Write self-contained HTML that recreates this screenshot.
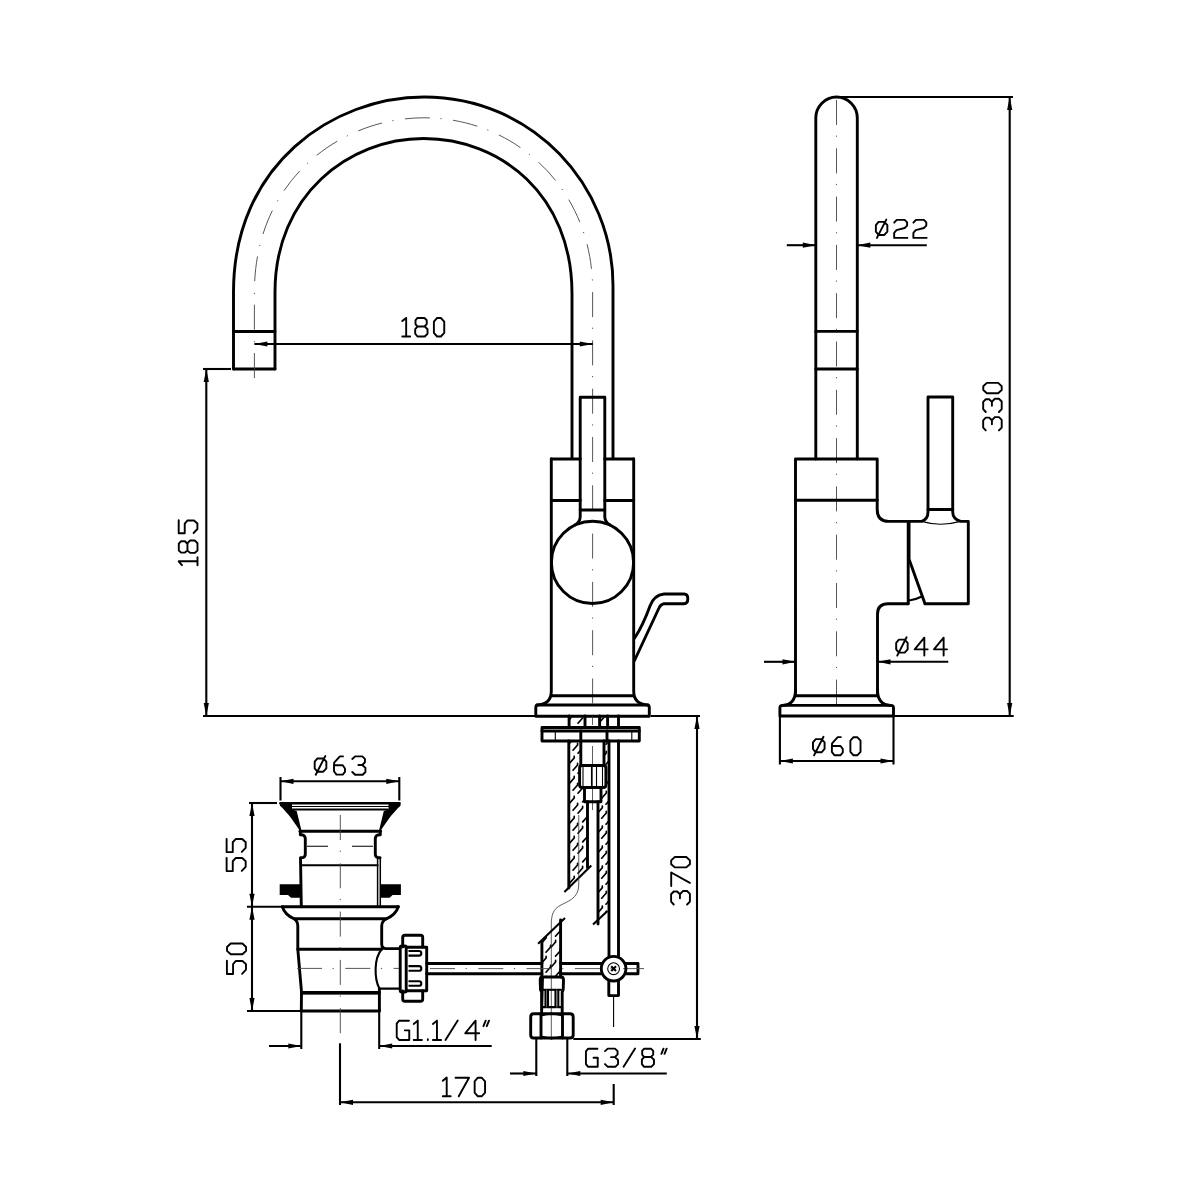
<!DOCTYPE html>
<html><head><meta charset="utf-8">
<style>
html,body{margin:0;padding:0;background:#fff;width:1200px;height:1200px;overflow:hidden}
svg{display:block}
.t{fill:none;stroke:#000;stroke-width:2.9;stroke-linejoin:round;stroke-linecap:round}
.m{fill:none;stroke:#000;stroke-width:2.1}
.k{fill:none;stroke:#000;stroke-width:2.4;stroke-linecap:round}
.n{fill:none;stroke:#000;stroke-width:1.1}
.d{fill:none;stroke:#000;stroke-width:1.5}
.w{fill:none;stroke:#333;stroke-width:0.8}
.h{fill:none;stroke:#000;stroke-width:1.7;stroke-linecap:round}
.c{fill:none;stroke:#444;stroke-width:0.9;stroke-dasharray:25 10.6 1.2 11.5}
.ar{fill:#000;stroke:none}
.g{fill:none;stroke:#000;stroke-width:1.9;stroke-linejoin:round;stroke-linecap:round;vector-effect:non-scaling-stroke}
text{font-family:"Liberation Sans",sans-serif;fill:#000}
</style></head><body>
<svg width="1200" height="1200" viewBox="0 0 1200 1200">
<defs><clipPath id="cL"><path d="M569.5,741 L580.3,741 L580.3,765.5 L579.2,765.5 L579.2,787.5 L584,787.5 L584,801.7 L587,801.7 L587,869.3 L569.5,887.4 Z"/></clipPath><clipPath id="cR"><path d="M604.5,741 L608.5,741 L608.5,909.6 L598.5,919.8 L598.5,801.7 L601.5,801.7 L601.5,787.5 L606.4,787.5 L606.4,765.5 L604.5,765.5 Z"/></clipPath><clipPath id="cB"><path d="M542.4,940.2 L560.1,922.2 L560.1,976 L542.4,976 Z"/></clipPath><clipPath id="cS"><path d="M569.5,717.5 L584.5,717.5 L584.5,726 L569.5,726 Z"/></clipPath><clipPath id="cS2"><path d="M600.5,717.5 L606.5,717.5 L606.5,726 L600.5,726 Z"/></clipPath></defs>
<path class="t" d="M233.5,369 L233.5,292.1 C233.5,164.1 333.4,97 424,97 C533,97 613,185.6 613,285.6 L613,458.5" />
<path class="t" d="M275,369 L275,292.1 C275,195.2 348.6,138.5 423.6,138.5 C500.4,138.5 572,195 572,293.5 L572,458.5" />
<path class="t" d="M233.5,369 L275,369 M233.5,331.5 L275,331.5" />
<path class="c" d="M254.4,378 L254.4,292.1 C254.4,179.6 341,117.8 423.8,117.8 C516.7,117.8 592.6,190.3 592.6,289.5 L592.6,712" />
<path class="m" d="M254.4,344 L592.8,344"/>
<polygon class="ar" points="254.4,344.0 267.4,341.4 267.4,346.6"/>
<polygon class="ar" points="592.8,344.0 579.8,346.6 579.8,341.4"/>
<path class="g" transform="translate(402,317.3) scale(0.9950)" d="M0.3,3.8 L4.2,0.6 L4.2,19.3 M0.3,19.3 L8.2,19.3"/>
<path class="g" transform="translate(414.8,317.3) scale(0.9950)" d="M2.7,0.7 L9.7,0.7 L12,3 L12,6.8 L9.5,9.3 L2.7,9.3 L0.7,6.8 L0.7,3 Z M2.7,9.3 L10,9.3 L12.8,12 L12.8,16.5 L10,19.3 L2.7,19.3 L0.4,16.5 L0.4,12 Z"/>
<path class="g" transform="translate(433.5,317.3) scale(0.9950)" d="M3.6,0.7 L7.4,0.7 L10.8,4.3 L10.8,15.7 L7.4,19.3 L3.6,19.3 L0.4,15.7 L0.4,4.3 Z"/>
<path class="m" d="M206.3,369 L206.3,716"/>
<polygon class="ar" points="206.3,369.0 208.9,382.0 203.7,382.0"/>
<polygon class="ar" points="206.3,716.0 203.7,703.0 208.9,703.0"/>
<path class="m" d="M203,369 L231,369"/>
<path class="m" d="M203,716 L535,716"/>
<path class="m" d="M651,716 L700,716"/>
<path class="g" transform="matrix(0,-1.0050,1.0050,0,178.1,565.5)" d="M0.3,3.8 L4.2,0.6 L4.2,19.3 M0.3,19.3 L8.2,19.3"/>
<path class="g" transform="matrix(0,-1.0050,1.0050,0,178.1,553.3)" d="M2.7,0.7 L9.7,0.7 L12,3 L12,6.8 L9.5,9.3 L2.7,9.3 L0.7,6.8 L0.7,3 Z M2.7,9.3 L10,9.3 L12.8,12 L12.8,16.5 L10,19.3 L2.7,19.3 L0.4,16.5 L0.4,12 Z"/>
<path class="g" transform="matrix(0,-1.0050,1.0050,0,178.1,533.8)" d="M13.5,0.6 L0.6,0.6 L0.6,6.6 L10.2,6.6 L13.3,9.4 L13.3,15.8 L10.2,19.2 L4.8,19.2 L0.8,15.4"/>
<path class="t" d="M551.3,459 L580.3,459 M604.7,459 L633.7,459" />
<path class="t" d="M551.3,459 L551.3,691 Q551.3,704.5 537,705" />
<path class="t" d="M633.7,459 L633.7,691 Q633.7,704.5 648,705" />
<path class="t" d="M551.3,500.5 L580.3,500.5 M604.7,500.5 L633.7,500.5" />
<path class="t" d="M551.3,695.7 L633.7,695.7" />
<path class="t" d="M580.2,510 L580.2,397.3 L604.8,397.3 L604.8,510 Z" />
<path class="t" d="M580.2,510 L580.2,517 Q580,522 575,525 M604.8,510 L604.8,517 Q605,522 610,525" />
<circle class="t" cx="592.5" cy="562.4" r="41.1"/>
<path class="t" d="M634.5,638.3 C640,630 646,617 650,606 Q654,595 664,594 L684,594 Q687.8,594 687.8,598.8 Q687.8,603.7 684,603.7 L664,603.7 Q660.5,604.5 659,608 L634.5,660.5" />
<path class="t" d="M538,705 L647,705 Q649.3,705 649.3,707.5 L649.3,716.3 L535.8,716.3 L535.8,707.5 Q535.8,705 538,705 Z" />
<path class="t" d="M569.1,716 L569.1,727"/>
<path class="t" d="M585,716 L585,727"/>
<path class="t" d="M599.6,716 L599.6,727"/>
<path class="t" d="M607.6,716 L607.6,727"/>
<path class="w" d="M592.5,716 L592.5,725 M592.5,746 L592.5,810" />
<path class="t" d="M542,727.5 L639.3,727.5 L639.3,741 L542,741 Z" />
<path class="t" d="M542,731 L639.3,731" />
<path class="n" d="M555.3,731 L555.3,741"/>
<path class="n" d="M631.8,731 L631.8,741"/>
<path class="t" d="M580.8,731 L580.8,741"/>
<path class="t" d="M607,731 L607,741"/>
<path class="t" d="M568.8,741 L568.8,888"/>
<path class="t" d="M580.8,741 L580.8,765.5"/>
<path class="t" d="M604,741 L604,765.5"/>
<path class="t" d="M609,741 L609,957"/>
<path class="t" d="M618.5,716 L618.5,727"/>
<path class="t" d="M618.5,741 L618.5,957"/>
<path class="t" d="M582,765.5 L603.5,765.5 Q605.9,765.5 605.9,768 L605.9,785 Q605.9,787.5 603.5,787.5 L582,787.5 Q579.6,787.5 579.6,785 L579.6,768 Q579.6,765.5 582,765.5 Z" />
<path class="n" d="M583,767 L583,786"/>
<path class="n" d="M591.5,767 L591.5,786"/>
<path class="n" d="M596.5,767 L596.5,786"/>
<path class="n" d="M602.5,767 L602.5,786"/>
<path class="t" d="M584.5,787.5 L584.5,801.7 L601,801.7 L601,787.5" />
<path class="t" d="M587.5,801.7 L587.5,867.5"/>
<path class="t" d="M598,801.7 L598,924"/>
<path class="h" clip-path="url(#cL)" d="M569.6,743.2 L574.2,738.0 L574.2,736.4 M569.6,763.2 L574.2,758.0 L574.2,756.4 M569.6,783.2 L574.2,778.0 L574.2,776.4 M569.6,803.2 L574.2,798.0 L574.2,796.4 M569.6,823.2 L574.2,818.0 L574.2,816.4 M569.6,843.2 L574.2,838.0 L574.2,836.4 M569.6,863.2 L574.2,858.0 L574.2,856.4 M569.6,883.2 L574.2,878.0 L574.2,876.4 M569.6,903.2 L574.2,898.0 L574.2,896.4 M573.0,750.2 L577.6,745.0 L577.6,743.4 M573.0,770.2 L577.6,765.0 L577.6,763.4 M573.0,790.2 L577.6,785.0 L577.6,783.4 M573.0,810.2 L577.6,805.0 L577.6,803.4 M573.0,830.2 L577.6,825.0 L577.6,823.4 M573.0,850.2 L577.6,845.0 L577.6,843.4 M573.0,870.2 L577.6,865.0 L577.6,863.4 M573.0,890.2 L577.6,885.0 L577.6,883.4 M578.0,753.2 L582.6,748.0 L582.6,746.4 M578.0,773.2 L582.6,768.0 L582.6,766.4 M578.0,793.2 L582.6,788.0 L582.6,786.4 M578.0,813.2 L582.6,808.0 L582.6,806.4 M578.0,833.2 L582.6,828.0 L582.6,826.4 M578.0,853.2 L582.6,848.0 L582.6,846.4 M578.0,873.2 L582.6,868.0 L582.6,866.4 M578.0,893.2 L582.6,888.0 L582.6,886.4 M582.7,741.9 L587.3,736.7 L587.3,735.1 M582.7,761.9 L587.3,756.7 L587.3,755.1 M582.7,781.9 L587.3,776.7 L587.3,775.1 M582.7,801.9 L587.3,796.7 L587.3,795.1 M582.7,821.9 L587.3,816.7 L587.3,815.1 M582.7,841.9 L587.3,836.7 L587.3,835.1 M582.7,861.9 L587.3,856.7 L587.3,855.1 M582.7,881.9 L587.3,876.7 L587.3,875.1 M582.7,901.9 L587.3,896.7 L587.3,895.1"/>
<path class="h" clip-path="url(#cR)" d="M597.7,752.9 L602.3,747.7 L602.3,746.1 M597.7,772.9 L602.3,767.7 L602.3,766.1 M597.7,792.9 L602.3,787.7 L602.3,786.1 M597.7,812.9 L602.3,807.7 L602.3,806.1 M597.7,832.9 L602.3,827.7 L602.3,826.1 M597.7,852.9 L602.3,847.7 L602.3,846.1 M597.7,872.9 L602.3,867.7 L602.3,866.1 M597.7,892.9 L602.3,887.7 L602.3,886.1 M597.7,912.9 L602.3,907.7 L602.3,906.1 M597.7,932.9 L602.3,927.7 L602.3,926.1 M601.7,738.2 L606.3,733.0 L606.3,731.4 M601.7,758.2 L606.3,753.0 L606.3,751.4 M601.7,778.2 L606.3,773.0 L606.3,771.4 M601.7,798.2 L606.3,793.0 L606.3,791.4 M601.7,818.2 L606.3,813.0 L606.3,811.4 M601.7,838.2 L606.3,833.0 L606.3,831.4 M601.7,858.2 L606.3,853.0 L606.3,851.4 M601.7,878.2 L606.3,873.0 L606.3,871.4 M601.7,898.2 L606.3,893.0 L606.3,891.4 M601.7,918.2 L606.3,913.0 L606.3,911.4 M606.0,744.2 L610.6,739.0 L610.6,737.4 M606.0,764.2 L610.6,759.0 L610.6,757.4 M606.0,784.2 L610.6,779.0 L610.6,777.4 M606.0,804.2 L610.6,799.0 L610.6,797.4 M606.0,824.2 L610.6,819.0 L610.6,817.4 M606.0,844.2 L610.6,839.0 L610.6,837.4 M606.0,864.2 L610.6,859.0 L610.6,857.4 M606.0,884.2 L610.6,879.0 L610.6,877.4 M606.0,904.2 L610.6,899.0 L610.6,897.4 M606.0,924.2 L610.6,919.0 L610.6,917.4"/>
<path class="h" clip-path="url(#cB)" d="M541.5,923.2 L546.1,918.0 L546.1,916.4 M541.5,943.2 L546.1,938.0 L546.1,936.4 M541.5,963.2 L546.1,958.0 L546.1,956.4 M541.5,983.2 L546.1,978.0 L546.1,976.4 M546.0,932.2 L550.6,927.0 L550.6,925.4 M546.0,952.2 L550.6,947.0 L550.6,945.4 M546.0,972.2 L550.6,967.0 L550.6,965.4 M551.0,927.2 L555.6,922.0 L555.6,920.4 M551.0,947.2 L555.6,942.0 L555.6,940.4 M551.0,967.2 L555.6,962.0 L555.6,960.4 M551.0,987.2 L555.6,982.0 L555.6,980.4 M555.5,936.2 L560.1,931.0 L560.1,929.4 M555.5,956.2 L560.1,951.0 L560.1,949.4 M555.5,976.2 L560.1,971.0 L560.1,969.4"/>
<path class="h" clip-path="url(#cS)" d="M569.6,719.2 L574.2,714.0 L574.2,712.4 M578.0,723.2 L582.6,718.0 L582.6,716.4"/>
<path class="h" clip-path="url(#cS2)" d="M600.5,721.2 L605.1,716.0 L605.1,714.4"/>
<path class="m" d="M564.4,891.9 L591.3,865.6" />
<path class="m" d="M593,924.4 L607.5,911" />
<path class="w" d="M578.75,815 L578.75,885 C578.75,899 566,902 561,905 C553,909 551.3,915 551.3,925 L551.3,1040" />
<path class="t" d="M541.9,942 L541.9,977"/>
<path class="t" d="M560.6,920 L560.6,977"/>
<path class="m" d="M538.1,943.8 L565,918" />
<path class="t" d="M542.5,977 L561,977 Q563.5,977 563.5,980 L563.2,989.7 L562.2,992 L562.2,1012.4 M541.6,1012.4 L541.6,992 L540.5,989.7 L540.2,980 Q540.2,977 542.5,977 Z" />
<path class="n" d="M541.6,989.7 L562.2,989.7" />
<path class="m" d="M542.7,989.7 L545.5,989.7 L545.5,1007.1 L542.7,1007.1 M548,989.7 L555.5,989.7 L555.5,1007.1 L548,1007.1 Z M561.1,989.7 L558.3,989.7 L558.3,1007.1 L561.1,1007.1" />
<path class="n" d="M541.6,1007.1 L562.2,1007.1" />
<path class="t" d="M533.5,1013.8 L570,1013.8 Q573.2,1013.8 573.2,1017 L573.2,1035 Q573.2,1038 570,1038 L533.5,1038 Q530.7,1038 530.7,1035 L530.7,1017 Q530.7,1013.8 533.5,1013.8 Z" />
<path class="t" d="M541,1013.8 L541,1038 M562.5,1013.8 L562.5,1038" />
<path class="m" d="M541,1015.5 Q551.7,1012 562.5,1015.5 M541,1036.5 Q551.7,1040 562.5,1036.5" />
<path class="m" d="M536.3,1039 L536.3,1076"/>
<path class="m" d="M567.3,1039 L567.3,1076"/>
<path class="t" d="M426.7,963.5 L541.9,963.5 M560.6,963.5 L601,963.5 M626,963.5 L638,963.5 L638,973.8 L626,973.8 M601,973.8 L560.6,973.8 M541.9,973.8 L426.7,973.8" />
<path class="c" d="M430,968.6 L644,968.6" />
<circle class="t" cx="613.6" cy="968.7" r="12.3"/>
<circle class="n" cx="613.6" cy="968.7" r="5.9"/>
<path class="m" d="M611.2,966.3 L616,971.1 M616,966.3 L611.2,971.1" />
<path class="t" d="M608.8,981 L608.8,995.6 L618.5,995.6 L618.5,981" />
<path class="n" d="M613.6,996 L613.6,1027"/>
<path class="m" d="M280.5,777 L280.5,800.5"/>
<path class="m" d="M399.3,777 L399.3,800.5"/>
<path class="m" d="M280.5,781.3 L399.3,781.3"/>
<polygon class="ar" points="280.5,781.3 293.5,778.7 293.5,783.9"/>
<polygon class="ar" points="399.3,781.3 386.3,783.9 386.3,778.7"/>
<path class="g" transform="translate(314,755.8) scale(0.9800)" d="M3.5,2.7 L9.5,2.7 L12.6,6 L12.6,12.8 L9.5,16.2 L3.5,16.2 L0.7,12.8 L0.7,6 Z M1.8,19.3 L11.5,0.3"/>
<path class="g" transform="translate(333.6,755.8) scale(0.9800)" d="M9.6,0.6 L6.4,0.6 L0.6,7 L0.4,9.7 L0.4,15.8 L2.9,19.2 L9.3,19.2 L11.6,16.4 L11.6,12.9 L9.3,9.7 L1.2,9.7"/>
<path class="g" transform="translate(351.7,755.8) scale(0.9800)" d="M0.6,3.2 L3.5,0.6 L10.8,0.6 L13.5,3.2 L13.5,6.6 L10.8,9.4 L6.8,9.4 M10.8,9.4 L14,12.3 L14,16.5 L11.2,19.3 L3.5,19.3 L0.6,16.5"/>
<path class="k" d="M280.5,803.2 L399.3,803.2" />
<path class="n" d="M282.5,806.5 L397.3,806.5" />
<path class="m" d="M292,809.5 L388.5,809.5" />
<path class="ar" d="M279.5,802.3 L292,802.3 L292,809.5 L296.7,811 L301.5,830.8 L299.8,830.8 C295,823 288,813 280,805.7 Z"/>
<path class="ar" d="M400.5,802.3 L388.5,802.3 L388.5,809.5 L383.8,811 L379,830.8 L380.7,830.8 C385.5,823 392.5,813 400.5,805.7 Z"/>
<path class="t" d="M300,831.3 L380.5,831.3" />
<path class="t" d="M300.3,831.3 L300.3,834.7 L303,835 Q305.3,836 305.3,839 L305.3,854 Q305.3,857 303,857.5 L300.5,857.7 L301.3,906.7" />
<path class="t" d="M380.3,831.3 L380.3,834.7 L377.6,835 Q375.3,836 375.3,839 L375.3,854 Q375.3,857 377.6,857.5 L380.1,857.7" />
<path class="d" d="M377.6,858.5 L377.6,906.7 M380.3,858.5 L380.3,906.7" />
<path class="m" d="M302,865.3 L378.5,865.3" />
<path class="n" d="M307,846.3 L328,846.3 M352,846.3 L373,846.3" />
<path class="ar" d="M279.7,884.3 L300.5,884.3 L300.5,897.7 L291,897.7 L288,895 L279.7,895 Z"/>
<path class="ar" d="M400.9,884.3 L380.1,884.3 L380.1,897.7 L389.6,897.7 L392.6,895 L400.9,895 Z"/>
<path class="t" d="M282.3,906.7 L398.3,906.7" />
<path class="t" d="M282.3,906.7 C284,912 288,916 294,918.7 L386.6,918.7 C392.6,916 396.6,912 398.3,906.7" />
<path class="t" d="M294,918.7 Q297.8,921 297.8,926 L297.8,949.2 L301.5,991.8 L301.3,1011" />
<path class="t" d="M386.6,918.7 Q381.7,921 381.7,926 L381.7,944 Q381.7,948.6 386,948.6 L400,948.6" />
<path class="t" d="M297.8,949.2 L381.7,949.2" />
<path class="m" d="M381.7,949.2 C374,958 374,978 379.4,988.6 L400,988.6" />
<path class="t" d="M379.4,988.6 L379.4,1011" />
<path class="t" d="M301.5,992.7 L379.4,992.7" />
<path class="ar" d="M301.5,991 L379.4,991 L379.4,994.5 L301.5,994.5 Z"/>
<path class="t" d="M301.3,1011 L379.4,1011" />
<path class="c" d="M297,968.4 L400,968.4" />
<path class="c" d="M340.3,815 L340.3,1040" />
<path class="t" d="M402.7,947 L402.7,937.5 Q402.7,935.3 405,935.3 L420.5,935.3 Q422.7,935.3 422.7,937.5 L422.7,947" />
<path class="t" d="M402.7,991 L402.7,999 Q402.7,1001.3 405,1001.3 L420.5,1001.3 Q422.7,1001.3 422.7,999 L422.7,991" />
<path class="t" d="M402,946 L405,946 Q406.2,946 406.2,947.5 L406.2,990.5 Q406.2,992 405,992 L402,992 Q400.2,992 400.2,990.5 L400.2,947.5 Q400.2,946 402,946 Z" />
<path class="t" d="M406.2,947.3 L426.7,947.3 L426.7,990.7 L406.2,990.7" />
<path class="m" d="M408.5,951.0 L419,951.0 Q421.3,951.0 421.3,953.3 Q421.3,955.5999999999999 419,955.5999999999999 L408.5,955.5999999999999" />
<path class="m" d="M408.5,966.1 L419,966.1 Q421.3,966.1 421.3,968.4 Q421.3,970.6999999999999 419,970.6999999999999 L408.5,970.6999999999999" />
<path class="m" d="M408.5,981.2 L419,981.2 Q421.3,981.2 421.3,983.5 Q421.3,985.8 419,985.8 L408.5,985.8" />
<path class="m" d="M252,803 L252,906.7"/>
<polygon class="ar" points="252.0,803.0 254.6,816.0 249.4,816.0"/>
<polygon class="ar" points="252.0,906.7 249.4,893.7 254.6,893.7"/>
<path class="m" d="M249,803 L277,803"/>
<path class="m" d="M247,906.7 L281,906.7"/>
<path class="g" transform="matrix(0,-1.0250,1.0250,0,226,871.7)" d="M13.5,0.6 L0.6,0.6 L0.6,6.6 L10.2,6.6 L13.3,9.4 L13.3,15.8 L10.2,19.2 L4.8,19.2 L0.8,15.4"/>
<path class="g" transform="matrix(0,-1.0250,1.0250,0,226,852.7)" d="M13.5,0.6 L0.6,0.6 L0.6,6.6 L10.2,6.6 L13.3,9.4 L13.3,15.8 L10.2,19.2 L4.8,19.2 L0.8,15.4"/>
<path class="m" d="M252,906.7 L252,1011"/>
<polygon class="ar" points="252.0,906.7 254.6,919.7 249.4,919.7"/>
<polygon class="ar" points="252.0,1011.0 249.4,998.0 254.6,998.0"/>
<path class="m" d="M247,1011 L300,1011"/>
<path class="g" transform="matrix(0,-1.0250,1.0250,0,226.3,974.6)" d="M13.5,0.6 L0.6,0.6 L0.6,6.6 L10.2,6.6 L13.3,9.4 L13.3,15.8 L10.2,19.2 L4.8,19.2 L0.8,15.4"/>
<path class="g" transform="matrix(0,-1.0250,1.0250,0,226.3,954.6)" d="M3.6,0.7 L7.4,0.7 L10.8,4.3 L10.8,15.7 L7.4,19.3 L3.6,19.3 L0.4,15.7 L0.4,4.3 Z"/>
<path class="m" d="M301.3,1011 L301.3,1049"/>
<path class="m" d="M379.2,1011 L379.2,1049"/>
<path class="m" d="M269,1046 L301.3,1046"/>
<polygon class="ar" points="301.3,1046.0 288.3,1048.6 288.3,1043.4"/>
<path class="m" d="M379.2,1046 L491.7,1046"/>
<polygon class="ar" points="379.2,1046.0 392.2,1043.4 392.2,1048.6"/>
<path class="g" transform="translate(396,1020) scale(1.0350)" d="M12.5,0.7 L3,0.7 L0.7,3.5 L0.7,16.5 L3,19.3 L12.8,19.3 L12.8,10 L8.5,10"/>
<path class="g" transform="translate(413.4,1020) scale(1.0350)" d="M0.3,3.8 L4.2,0.6 L4.2,19.3 M0.3,19.3 L8.2,19.3"/>
<path class="g" transform="translate(426.8,1020) scale(1.0350)" d="M1,18.5 L1,19.3"/>
<path class="g" transform="translate(432.6,1020) scale(1.0350)" d="M0.3,3.8 L4.2,0.6 L4.2,19.3 M0.3,19.3 L8.2,19.3"/>
<path class="g" transform="translate(445,1020) scale(1.0350)" d="M0.5,19.3 L12.3,0.5"/>
<path class="g" transform="translate(464.7,1020) scale(1.0350)" d="M10.5,19.3 L10.5,0.6 L0.5,12.8 L14,12.8"/>
<path class="g" transform="translate(482.6,1020) scale(1.0350)" d="M0.8,6 L3,0.7 M4,6 L6.2,0.7"/>
<path class="m" d="M340,1043.3 L340,1105"/>
<path class="m" d="M340,1102.3 L613.7,1102.3"/>
<polygon class="ar" points="340.0,1102.3 353.0,1099.7 353.0,1104.9"/>
<polygon class="ar" points="613.7,1102.3 600.7,1104.9 600.7,1099.7"/>
<path class="m" d="M613.7,1084 L613.7,1105"/>
<path class="g" transform="translate(442.5,1077) scale(1.0000)" d="M0.3,3.8 L4.2,0.6 L4.2,19.3 M0.3,19.3 L8.2,19.3"/>
<path class="g" transform="translate(455.25,1077) scale(1.0000)" d="M0.3,0.7 L13.8,0.7 L3.5,19.3"/>
<path class="g" transform="translate(474.25,1077) scale(1.0000)" d="M3.6,0.7 L7.4,0.7 L10.8,4.3 L10.8,15.7 L7.4,19.3 L3.6,19.3 L0.4,15.7 L0.4,4.3 Z"/>
<path class="m" d="M536.3,1076 L536.3,1076"/>
<path class="m" d="M510,1073.5 L536.3,1073.5"/>
<polygon class="ar" points="536.3,1073.5 523.3,1076.1 523.3,1070.9"/>
<path class="m" d="M567.3,1073.5 L666.8,1073.5"/>
<polygon class="ar" points="567.3,1073.5 580.3,1070.9 580.3,1076.1"/>
<path class="g" transform="translate(585.25,1048) scale(0.9750)" d="M12.5,0.7 L3,0.7 L0.7,3.5 L0.7,16.5 L3,19.3 L12.8,19.3 L12.8,10 L8.5,10"/>
<path class="g" transform="translate(604.4,1048) scale(0.9750)" d="M0.6,3.2 L3.5,0.6 L10.8,0.6 L13.5,3.2 L13.5,6.6 L10.8,9.4 L6.8,9.4 M10.8,9.4 L14,12.3 L14,16.5 L11.2,19.3 L3.5,19.3 L0.6,16.5"/>
<path class="g" transform="translate(623.1,1048) scale(0.9750)" d="M0.5,19.3 L12.3,0.5"/>
<path class="g" transform="translate(641.5,1048) scale(0.9750)" d="M2.7,0.7 L9.7,0.7 L12,3 L12,6.8 L9.5,9.3 L2.7,9.3 L0.7,6.8 L0.7,3 Z M2.7,9.3 L10,9.3 L12.8,12 L12.8,16.5 L10,19.3 L2.7,19.3 L0.4,16.5 L0.4,12 Z"/>
<path class="g" transform="translate(660.6,1048) scale(0.9750)" d="M0.8,6 L3,0.7 M4,6 L6.2,0.7"/>
<path class="m" d="M697,716 L697,1039"/>
<polygon class="ar" points="697.0,716.0 699.6,729.0 694.4,729.0"/>
<polygon class="ar" points="697.0,1039.0 694.4,1026.0 699.6,1026.0"/>
<path class="m" d="M573.3,1039 L700.8,1039"/>
<path class="g" transform="matrix(0,-1.0050,1.0050,0,670.5,905.1)" d="M0.6,3.2 L3.5,0.6 L10.8,0.6 L13.5,3.2 L13.5,6.6 L10.8,9.4 L6.8,9.4 M10.8,9.4 L14,12.3 L14,16.5 L11.2,19.3 L3.5,19.3 L0.6,16.5"/>
<path class="g" transform="matrix(0,-1.0050,1.0050,0,670.5,886.4)" d="M0.3,0.7 L13.8,0.7 L3.5,19.3"/>
<path class="g" transform="matrix(0,-1.0050,1.0050,0,670.5,867.8)" d="M3.6,0.7 L7.4,0.7 L10.8,4.3 L10.8,15.7 L7.4,19.3 L3.6,19.3 L0.4,15.7 L0.4,4.3 Z"/>
<path class="t" d="M815.8,459 L815.8,118 A20.75 21 0 0 1 857.3,118 L857.3,459" />
<path class="t" d="M815.8,331.4 L857.3,331.4 M815.8,369 L857.3,369" />
<path class="c" d="M836.5,100 L836.5,712" />
<path class="m" d="M836.5,97 L1013,97"/>
<path class="m" d="M1009.7,97 L1009.7,716"/>
<polygon class="ar" points="1009.7,97.0 1012.3,110.0 1007.1,110.0"/>
<polygon class="ar" points="1009.7,716.0 1007.1,703.0 1012.3,703.0"/>
<path class="g" transform="matrix(0,-0.9900,0.9900,0,982.6,431)" d="M0.6,3.2 L3.5,0.6 L10.8,0.6 L13.5,3.2 L13.5,6.6 L10.8,9.4 L6.8,9.4 M10.8,9.4 L14,12.3 L14,16.5 L11.2,19.3 L3.5,19.3 L0.6,16.5"/>
<path class="g" transform="matrix(0,-0.9900,0.9900,0,982.6,412.6)" d="M0.6,3.2 L3.5,0.6 L10.8,0.6 L13.5,3.2 L13.5,6.6 L10.8,9.4 L6.8,9.4 M10.8,9.4 L14,12.3 L14,16.5 L11.2,19.3 L3.5,19.3 L0.6,16.5"/>
<path class="g" transform="matrix(0,-0.9900,0.9900,0,982.6,393.6)" d="M3.6,0.7 L7.4,0.7 L10.8,4.3 L10.8,15.7 L7.4,19.3 L3.6,19.3 L0.4,15.7 L0.4,4.3 Z"/>
<path class="m" d="M786.8,245.2 L815.8,245.2"/>
<polygon class="ar" points="815.8,245.2 802.8,247.8 802.8,242.6"/>
<path class="m" d="M857.3,245.2 L926.8,245.2"/>
<polygon class="ar" points="857.3,245.2 870.3,242.6 870.3,247.8"/>
<path class="g" transform="translate(875.2,219.3) scale(0.9650)" d="M3.5,2.7 L9.5,2.7 L12.6,6 L12.6,12.8 L9.5,16.2 L3.5,16.2 L0.7,12.8 L0.7,6 Z M1.8,19.3 L11.5,0.3"/>
<path class="g" transform="translate(893.6,219.3) scale(0.9650)" d="M0.6,3.5 L3.3,0.6 L11.5,0.6 L14,3.2 L14,6.5 L11.5,9 L3,11.3 L0.6,14 L0.6,19.3 L14.3,19.3"/>
<path class="g" transform="translate(912.8,219.3) scale(0.9650)" d="M0.6,3.5 L3.3,0.6 L11.5,0.6 L14,3.2 L14,6.5 L11.5,9 L3,11.3 L0.6,14 L0.6,19.3 L14.3,19.3"/>
<path class="t" d="M795.5,695.7 L795.5,459 L877.2,459 L877.2,509.5 Q877.2,521.4 888.7,521.4 L921.7,521.4 Q928,519 928,511.7 L928,397 L952.7,397 L952.7,511.7 Q952.7,519 960.7,521.4 L968.3,521.4 L968.3,603.7 L925,603.7" />
<path class="t" d="M795.5,500.3 L877.2,500.3" />
<path class="t" d="M928,509.5 L952.7,509.5" />
<path class="n" d="M921.7,521.4 Q940,527 960.7,521.4" />
<path class="t" d="M908.2,521.4 L908.2,603.7" />
<path class="ar" d="M907,521.4 L910.5,521.4 L910.5,560.4 L909.5,560.4 L907,560.4 Z"/>
<path class="t" d="M909.5,560.4 L925,603.7" />
<path class="m" d="M909,600.5 Q916,599.5 923,596" />
<path class="t" d="M908.2,603.7 L888.2,603.7 Q877.5,603.7 877.5,614 L877.5,695.7" />
<path class="t" d="M795.5,695.7 L877.5,695.7" />
<path class="t" d="M795.5,690 Q795.5,704.8 782.5,705.4 M877.5,690 Q877.5,704.8 890.5,705.4" />
<path class="t" d="M782.5,705.4 L890.9,705.4 Q893.5,705.4 893.5,708 L893.5,716 L779.9,716 L779.9,708 Q779.9,705.4 782.5,705.4 Z" />
<path class="m" d="M893.5,716 L1013.7,716"/>
<path class="m" d="M764,661.8 L795.5,661.8"/>
<polygon class="ar" points="795.5,661.8 782.5,664.4 782.5,659.2"/>
<path class="m" d="M877.5,661.8 L948.3,661.8"/>
<polygon class="ar" points="877.5,661.8 890.5,659.2 890.5,664.4"/>
<path class="g" transform="translate(895.5,637) scale(0.9650)" d="M3.5,2.7 L9.5,2.7 L12.6,6 L12.6,12.8 L9.5,16.2 L3.5,16.2 L0.7,12.8 L0.7,6 Z M1.8,19.3 L11.5,0.3"/>
<path class="g" transform="translate(914.2,637) scale(0.9650)" d="M10.5,19.3 L10.5,0.6 L0.5,12.8 L14,12.8"/>
<path class="g" transform="translate(933.5,637) scale(0.9650)" d="M10.5,19.3 L10.5,0.6 L0.5,12.8 L14,12.8"/>
<path class="m" d="M779.9,716 L779.9,764.5"/>
<path class="m" d="M893.5,716 L893.5,764.5"/>
<path class="m" d="M779.9,761 L893.5,761"/>
<polygon class="ar" points="779.9,761.0 792.9,758.4 792.9,763.6"/>
<polygon class="ar" points="893.5,761.0 880.5,763.6 880.5,758.4"/>
<path class="g" transform="translate(812.3,736.5) scale(0.9750)" d="M3.5,2.7 L9.5,2.7 L12.6,6 L12.6,12.8 L9.5,16.2 L3.5,16.2 L0.7,12.8 L0.7,6 Z M1.8,19.3 L11.5,0.3"/>
<path class="g" transform="translate(831.5,736.5) scale(0.9750)" d="M9.6,0.6 L6.4,0.6 L0.6,7 L0.4,9.7 L0.4,15.8 L2.9,19.2 L9.3,19.2 L11.6,16.4 L11.6,12.9 L9.3,9.7 L1.2,9.7"/>
<path class="g" transform="translate(850,736.5) scale(0.9750)" d="M3.6,0.7 L7.4,0.7 L10.8,4.3 L10.8,15.7 L7.4,19.3 L3.6,19.3 L0.4,15.7 L0.4,4.3 Z"/>
<!--HW-->
</svg>
</body></html>
